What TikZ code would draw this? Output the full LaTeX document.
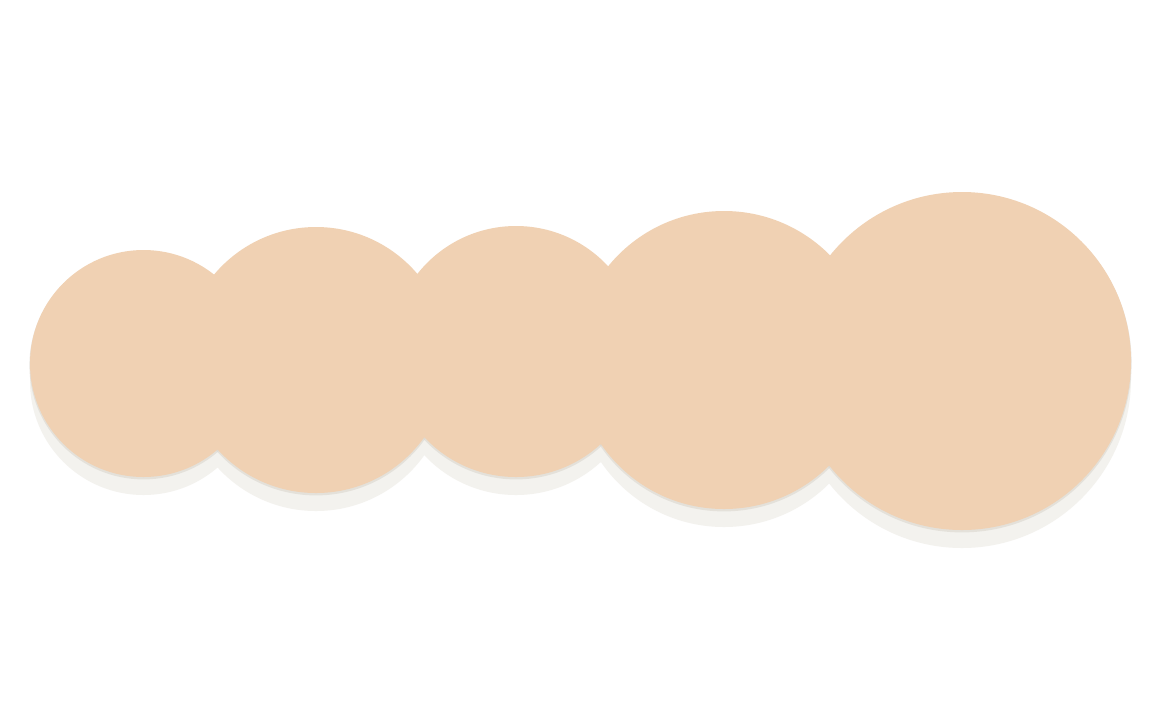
\documentclass[tikz,border=0pt]{standalone}
\begin{document}
\begin{tikzpicture}[x=0.02cm,y=-0.02cm]
\definecolor{peach}{HTML}{F0D1B3}
\definecolor{shade}{HTML}{F3F2EE}
\definecolor{rim}{HTML}{DAD6CE}
\tikzset{
  bubble/.style={fill=peach,draw=none},
  bubshadow/.style={fill=shade,draw=none},
  bubrim/.style={fill=rim,draw=none,opacity=0.6}
}
\fill[white] (0,0) rectangle (1172,708);
\useasboundingbox (0,0) rectangle (1172,708);
% shadows
\foreach \x/\y/\r in {143.5/363.5/113.5, 316/360/133, 516/351.5/125.5, 724/360/149, 962/361/169}{
  \path[bubshadow] (\x,\y+18) circle[radius=\r];
}
\foreach \x/\y/\r in {143.5/363.5/113.5, 316/360/133, 516/351.5/125.5, 724/360/149, 962/361/169}{
  \path[bubrim] (\x,\y+1.8) circle[radius=\r+0.6];
}
% circles
\node[bubble,circle,minimum size=227*0.02cm,inner sep=0pt] (c1) at (143.5,363.5) {};
\node[bubble,circle,minimum size=266*0.02cm,inner sep=0pt] (c2) at (316,360) {};
\node[bubble,circle,minimum size=251*0.02cm,inner sep=0pt] (c3) at (516,351.5) {};
\node[bubble,circle,minimum size=298*0.02cm,inner sep=0pt] (c4) at (724,360) {};
\node[bubble,circle,minimum size=338*0.02cm,inner sep=0pt] (c5) at (962,361) {};
\end{tikzpicture}
\end{document}
